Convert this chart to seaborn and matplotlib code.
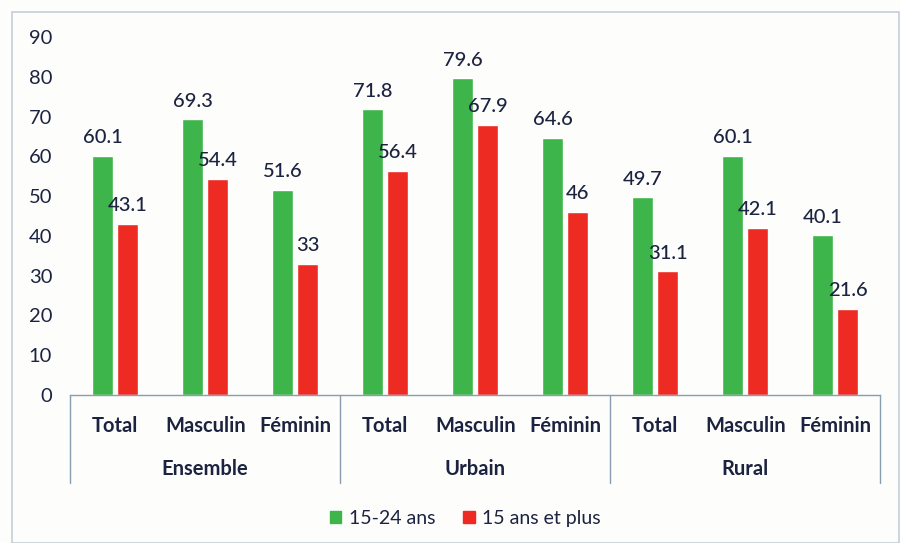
import matplotlib
matplotlib.use("Agg")
import matplotlib.pyplot as plt
import seaborn as sns
import pandas as pd
from matplotlib.patches import Rectangle

groups = ["Ensemble", "Urbain", "Rural"]
subcats = ["Total", "Masculin", "Féminin"]
series_names = ["15-24 ans", "15 ans et plus"]
vals_15_24 = [60.1, 69.3, 51.6, 71.8, 79.6, 64.6, 49.7, 60.1, 40.1]
vals_15_plus = [43.1, 54.4, 33, 56.4, 67.9, 46, 31.1, 42.1, 21.6]
yticks = [0, 10, 20, 30, 40, 50, 60, 70, 80, 90]

colors = ["#3db54a", "#ee2b23"]
txt = "#1c2340"

keys = [f"{g}|{s}" for g in groups for s in subcats]
df = pd.DataFrame({
    "cat": keys * 2,
    "serie": [series_names[0]] * 9 + [series_names[1]] * 9,
    "val": vals_15_24 + vals_15_plus,
})

sns.set_theme(style="white")
plt.rcParams["font.family"] = ["Lato", "DejaVu Sans"]

fig = plt.figure(figsize=(9, 5.43), dpi=100)
fig.patch.set_facecolor("#fdfdfb")
ax = fig.add_axes([0.078, 0.2726, 0.9, 0.6593])
ax.set_facecolor("#fdfdfb")

sns.barplot(data=df, x="cat", y="val", hue="serie", order=keys,
            hue_order=series_names, palette=colors, width=0.55, gap=0.15,
            saturation=1, ax=ax, legend=True)

for cont in ax.containers:
    ax.bar_label(cont, labels=[f"{b.get_height():g}" for b in cont],
                 padding=7, fontsize=14.5, color=txt, fontweight="medium")

ax.set_ylim(0, 90)
ax.set_xlim(-0.5, 8.5)
ax.set_yticks(yticks)
ax.set_yticklabels([str(t) for t in yticks], fontsize=14.5, color=txt)
ax.tick_params(axis="y", length=0, pad=13)
ax.tick_params(axis="x", length=0)
ax.set_xticks(range(9))
ax.set_xticklabels([])
ax.set_xlabel("")
ax.set_ylabel("")
for s in ["top", "right", "left"]:
    ax.spines[s].set_visible(False)
ax.spines["bottom"].set_color("#8a9cb0")
ax.spines["bottom"].set_linewidth(1.0)

sep_color = "#8a9cb0"
for xs in [-0.5, 2.5, 5.5, 8.5]:
    ax.axvline(xs, ymin=-0.246, ymax=0, color=sep_color, lw=1.0, clip_on=False)

for i, k in enumerate(keys):
    ax.annotate(k.split("|")[1], xy=(i, 0), xycoords=("data", "axes fraction"),
                xytext=(0, -22), textcoords="offset points", ha="center", va="center",
                fontsize=14.5, fontweight="bold", color=txt, annotation_clip=False)
for gi, g in enumerate(groups):
    ax.annotate(g, xy=(gi * 3 + 1, 0), xycoords=("data", "axes fraction"),
                xytext=(0, -53), textcoords="offset points", ha="center", va="center",
                fontsize=14.5, fontweight="bold", color=txt, annotation_clip=False)

leg = ax.get_legend()
if leg is not None:
    leg.remove()
handles = [Rectangle((0, 0), 1, 1, color=c) for c in colors]
fig.legend(handles, series_names, loc="center", bbox_to_anchor=(0.517, 0.045),
           ncol=2, frameon=False, fontsize=14, handlelength=0.6, handleheight=0.6,
           handletextpad=0.4, columnspacing=1.4, labelcolor=txt)

fig.patches.append(Rectangle((12 / 900, 0.0), 1 - 12 / 900 - 0.001, 1 - 12 / 543,
                             transform=fig.transFigure, fill=False,
                             edgecolor="#c5ced8", lw=1.2))

fig.savefig("out.png", dpi=100, facecolor=fig.get_facecolor())
